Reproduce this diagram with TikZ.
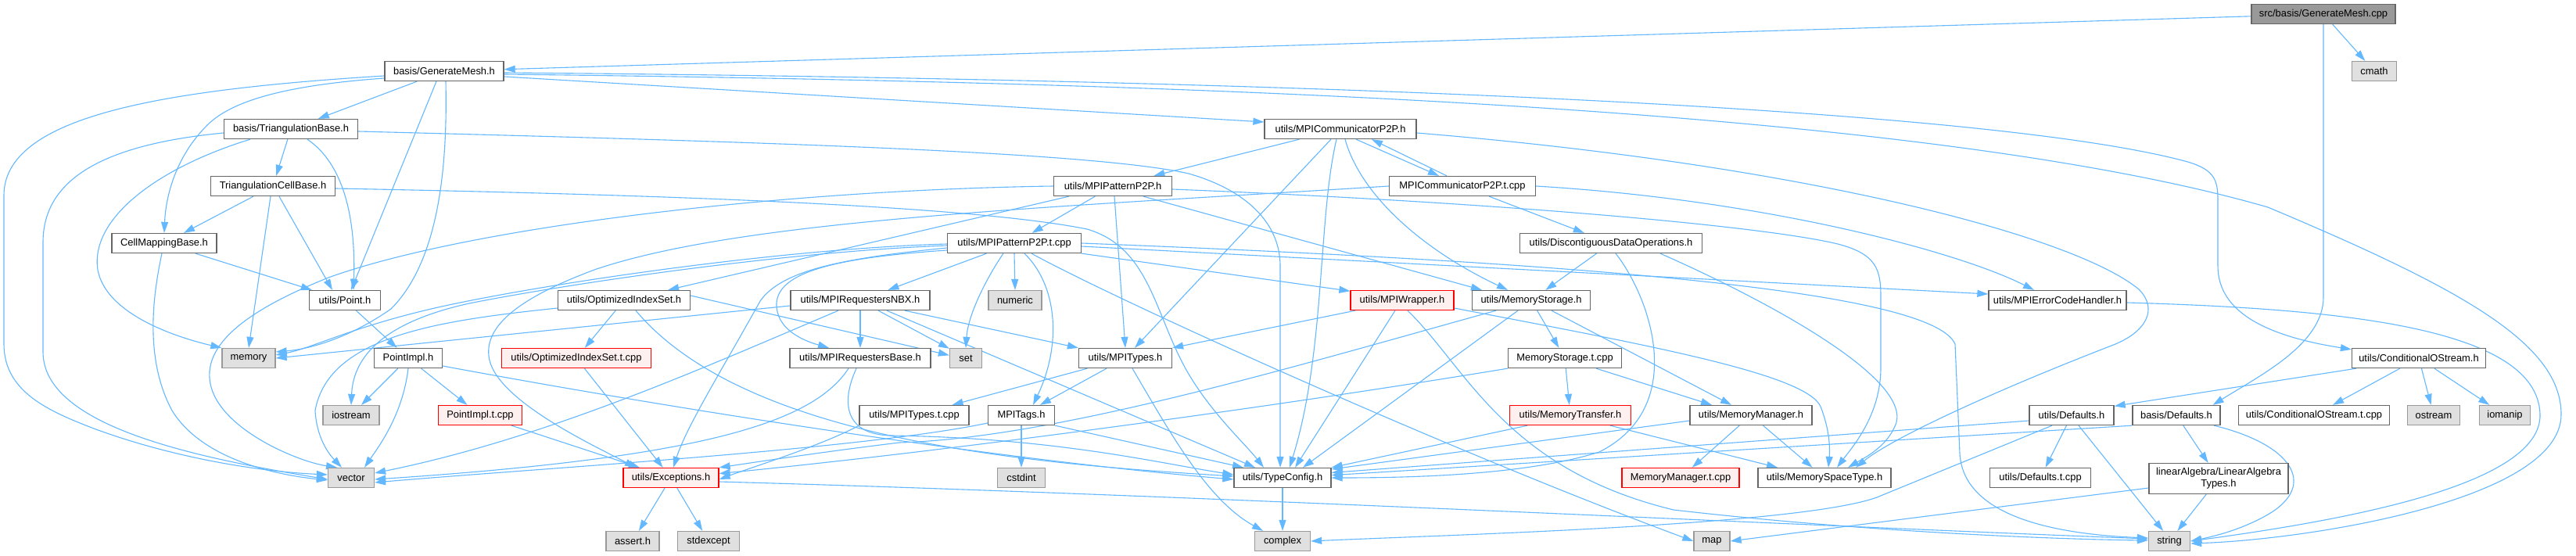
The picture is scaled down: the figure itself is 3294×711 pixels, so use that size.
\documentclass[tikz,border=0pt]{standalone}
\usepackage{fontspec}
\setmainfont{Liberation Sans}
\usetikzlibrary{arrows.meta}
\definecolor{edgec}{HTML}{63B8FF}
\definecolor{boxb}{HTML}{666666}
\definecolor{extb}{HTML}{999999}
\definecolor{extf}{HTML}{E0E0E0}
\definecolor{redb}{HTML}{FF0000}
\definecolor{redf}{HTML}{FFF0F0}
\definecolor{rootf}{HTML}{999999}
\newcommand{\nodefont}{\fontsize{12.9}{15}\selectfont}
\pgfdeclarelayer{back}
\pgfdeclarelayer{bg}
\pgfsetlayers{back,bg,main}
\begin{document}
\begin{tikzpicture}[x=1pt,y=-1pt,
 box/.style={draw=boxb, fill=white, line width=1.3pt, minimum height=25pt, inner sep=0pt, font=\nodefont},
 extbox/.style={box, draw=extb, fill=extf},
 redbox/.style={box, draw=redb, fill=redf},
 rootbox/.style={box, draw=boxb, fill=rootf},
 dep/.style={draw=edgec, line width=1.1pt, -{Triangle[length=14pt,width=9pt]}}]
\begin{pgfonlayer}{back}
\fill[white] (0,0) rectangle (3294,711);
\end{pgfonlayer}
\useasboundingbox (0,0) rectangle (3294,711);

\node[rootbox,minimum width=184pt] (cpp) at (2971,18) {src/basis/GenerateMesh.cpp};
\node[extbox,minimum width=57pt] (cmath) at (3036,91) {cmath};
\node[box,minimum width=152pt] (gmh) at (568,91) {basis/GenerateMesh.h};
\node[box,minimum width=171pt] (tribase) at (372,165) {basis/TriangulationBase.h};
\node[box,minimum width=194pt] (comm) at (1714,165) {utils/MPICommunicatorP2P.h};
\node[box,minimum width=159pt] (tricell) at (349,238) {TriangulationCellBase.h};
\node[box,minimum width=151pt] (pat) at (1423,238) {utils/MPIPatternP2P.h};
\node[box,minimum width=187pt] (commt) at (1870,238) {MPICommunicatorP2P.t.cpp};
\node[box,minimum width=134pt] (cellmap) at (210,311) {CellMappingBase.h};
\node[box,minimum width=171pt] (patt) at (1297,311) {utils/MPIPatternP2P.t.cpp};
\node[box,minimum width=233pt] (disc) at (2060,311) {utils/DiscontiguousDataOperations.h};
\node[box,minimum width=91pt] (point) at (441,384) {utils/Point.h};
\node[box,minimum width=169pt] (optset) at (798,384) {utils/OptimizedIndexSet.h};
\node[box,minimum width=178pt] (nbx) at (1100,384) {utils/MPIRequestersNBX.h};
\node[extbox,minimum width=68pt] (numeric) at (1298,384) {numeric};
\node[redbox,minimum width=132pt] (wrapper) at (1793,384) {utils/MPIWrapper.h};
\node[box,minimum width=151pt] (memst) at (1958,384) {utils/MemoryStorage.h};
\node[box,minimum width=176pt] (errh) at (2631,384) {utils/MPIErrorCodeHandler.h};
\node[extbox,minimum width=68pt] (memory) at (318,458) {memory};
\node[box,minimum width=87pt] (pimpl) at (522,458) {PointImpl.h};
\node[redbox,minimum width=191pt] (optsett) at (737,458) {utils/OptimizedIndexSet.t.cpp};
\node[box,minimum width=180pt] (reqbase) at (1100,458) {utils/MPIRequestersBase.h};
\node[extbox,minimum width=41pt] (set) at (1235,458) {set};
\node[box,minimum width=119pt] (types) at (1439,458) {utils/MPITypes.h};
\node[box,minimum width=145pt] (memstt) at (2001,458) {MemoryStorage.t.cpp};
\node[box,minimum width=171pt] (cond) at (3093,458) {utils/ConditionalOStream.h};
\node[extbox,minimum width=72pt] (iostream) at (449,531) {iostream};
\node[redbox,minimum width=107pt] (pimplt) at (614,531) {PointImpl.t.cpp};
\node[box,minimum width=140pt] (typest) at (1169,531) {utils/MPITypes.t.cpp};
\node[box,minimum width=85pt] (tags) at (1306,531) {MPITags.h};
\node[redbox,minimum width=155pt] (transfer) at (2008,531) {utils/MemoryTransfer.h};
\node[box,minimum width=156pt] (manager) at (2239,531) {utils/MemoryManager.h};
\node[box,minimum width=108pt] (udef) at (2649,531) {utils/Defaults.h};
\node[box,minimum width=112pt] (bdef) at (2783,531) {basis/Defaults.h};
\node[box,minimum width=193pt] (condt) at (2959,531) {utils/ConditionalOStream.t.cpp};
\node[extbox,minimum width=67pt] (ostream) at (3112,531) {ostream};
\node[extbox,minimum width=65pt] (iomanip) at (3203,531) {iomanip};
\node[extbox,minimum width=59pt] (vector) at (449,611) {vector};
\node[redbox,minimum width=122pt] (exc) at (858,611) {utils/Exceptions.h};
\node[extbox,minimum width=61pt] (cstdint) at (1306,611) {cstdint};
\node[box,minimum width=124pt] (tc) at (1640,611) {utils/TypeConfig.h};
\node[redbox,minimum width=150pt] (managert) at (2149,611) {MemoryManager.t.cpp};
\node[box,minimum width=170pt] (space) at (2333,611) {utils/MemorySpaceType.h};
\node[box,minimum width=129pt] (deft) at (2609,611) {utils/Defaults.t.cpp};
\node[box,minimum width=178pt,minimum height=39pt,align=center] (linalg) at (2837,612) {linearAlgebra/LinearAlgebra\\Types.h};
\node[extbox,minimum width=68pt] (assert) at (809,692) {assert.h};
\node[extbox,minimum width=79pt] (stdexcept) at (906,692) {stdexcept};
\node[extbox,minimum width=71pt] (complex) at (1640,692) {complex};
\node[extbox,minimum width=46pt] (map) at (2189,692) {map};
\node[extbox,minimum width=53pt] (string) at (2774,692) {string};

\begin{pgfonlayer}{bg}
% root
\draw[dep] (cpp) -- (gmh);
\draw[dep] (cpp) -- (cmath);
\draw[dep] (cpp.south) -- (2971,380) .. controls (2971,440) and (2890,480) .. ([xshift=-10pt]bdef.north east);
% GenerateMesh.h
\draw[dep] (gmh) -- (tribase);
\draw[dep] ([yshift=-9pt]gmh.west) .. controls (380,108) and (300,125) .. (265,160) .. controls (225,200) and (212,250) .. (cellmap.north);
\draw[dep] ([yshift=-6pt]gmh.west) .. controls (200,115) and (5,150) .. (5,250) -- (5,440) .. controls (5,500) and (60,525) .. (120,548) .. controls (220,585) and (330,603) .. ([yshift=4pt]vector.west);
\draw[dep] ([xshift=-10pt]gmh.south) -- ([xshift=8pt]point.north);
\draw[dep] ([xshift=2pt]gmh.south) .. controls (572,200) and (565,330) .. (500,395) .. controls (450,430) and (400,446) .. ([yshift=8pt]memory.east);
\draw[dep] ([yshift=-7pt]gmh.east) -- ([yshift=9pt]comm.west);
\draw[dep] ([yshift=-2pt]gmh.east) .. controls (1500,100) and (2500,130) .. (2790,205) .. controls (2830,215) and (2836,228) .. (2836,255) -- (2836,340) .. controls (2836,400) and (2900,430) .. ([yshift=-2pt]cond.north west);
\draw[dep] ([yshift=-4pt]gmh.east) .. controls (1500,105) and (2450,135) .. (2900,265) .. controls (3150,370) and (3275,440) .. (3275,530) .. controls (3275,640) and (2950,690) .. ([yshift=-3pt]string.east);
% TriangulationBase.h
\draw[dep] (tribase) -- (tricell);
\draw[dep] ([yshift=-5pt]tribase.west) .. controls (130,185) and (55,230) .. (55,310) -- (55,450) .. controls (55,545) and (250,585) .. ([yshift=-2pt]vector.west);
\draw[dep] ([xshift=-52pt]tribase.south) .. controls (200,215) and (115,280) .. (125,345) .. controls (135,400) and (220,430) .. (memory.north west);
\draw[dep] ([xshift=21pt]tribase.south) .. controls (440,210) and (455,280) .. ([xshift=11pt]point.north);
\draw[dep] ([yshift=-3pt]tribase.east) .. controls (1000,182) and (1400,195) .. (1520,222) .. controls (1600,245) and (1637,290) .. (1637,340) -- ([xshift=-3pt]tc.north);
% TriangulationCellBase.h
\draw[dep] (tricell) -- (cellmap);
\draw[dep] ([xshift=-3pt]tricell.south) -- (memory.north);
\draw[dep] ([xshift=8pt]tricell.south) -- ([xshift=-16pt]point.north);
\draw[dep] ([yshift=-3pt]tricell.east) .. controls (900,250) and (1250,265) .. (1390,293) .. controls (1465,315) and (1475,390) .. (1510,460) .. controls (1540,520) and (1590,565) .. ([xshift=-24pt]tc.north);
% CellMappingBase.h
\draw[dep] ([xshift=40pt]cellmap.south) -- ([xshift=4pt]point.north west);
\draw[dep] ([xshift=-3pt]cellmap.south) .. controls (195,380) and (185,460) .. (220,525) .. controls (260,590) and (360,608) .. ([yshift=-3pt]vector.west);
% Point
\draw[dep] (point) -- (pimpl);
\draw[dep] (pimpl) -- (iostream);
\draw[dep] (pimpl.south) .. controls (515,530) and (485,570) .. ([xshift=17pt]vector.north);
\draw[dep] (pimpl) -- (pimplt);
\draw[dep] ([yshift=-10pt]pimpl.east) .. controls (900,530) and (1300,590) .. ([yshift=-2pt]tc.west);
\draw[dep] (pimplt) -- (exc);
% Exceptions, TypeConfig
\draw[dep] (optsett) -- (exc);
\draw[dep] (exc) -- (assert);
\draw[dep] (exc) -- (stdexcept);
\draw[dep] ([yshift=-5pt]exc.east) .. controls (1500,632) and (2300,672) .. ([yshift=3pt]string.west);
\draw[dep] (tc) -- (complex);
% OptimizedIndexSet.h
\draw[dep] (optset) -- (optsett);
\draw[dep] ([xshift=15pt]optset.south) .. controls (950,560) and (1300,592) .. ([yshift=2pt]tc.west);
\draw[dep] ([yshift=6pt]optset.east) -- (set.170);
\draw[dep] ([yshift=-10pt]optset.west) .. controls (560,410) and (420,430) .. (403,525) .. controls (405,560) and (420,580) .. ([xshift=-12pt]vector.north);
% MPIPatternP2P.h
\draw[dep] (pat.west) .. controls (1000,243) and (600,290) .. (420,355) .. controls (320,395) and (255,440) .. (270,495) .. controls (285,550) and (380,590) .. ([xshift=-18pt]vector.north);
\draw[dep] (pat) -- (optset);
\draw[dep] (pat) -- (patt);
\draw[dep] ([xshift=2pt]pat.south) -- (types.north);
\draw[dep] ([xshift=39pt]pat.south) -- ([xshift=-63pt]memst.north);
\draw[dep] ([yshift=-4pt]pat.east) .. controls (1900,258) and (2250,288) .. (2350,312) .. controls (2400,325) and (2405,345) .. (2405,380) -- (2405,470) .. controls (2405,530) and (2370,570) .. ([xshift=16pt]space.north);
% MPICommunicatorP2P.h
\draw[dep] (comm) -- (pat);
\draw[dep] ([xshift=-12pt]comm.south) -- ([xshift=12pt]types.north);
\draw[dep] ([xshift=-5pt]comm.south) .. controls (1685,280) and (1695,450) .. ([xshift=9pt]tc.north);
\draw[dep] ([xshift=6pt]comm.south) .. controls (1740,250) and (1820,320) .. ([xshift=-30pt]memst.north);
\draw[dep] ([xshift=20pt]comm.south) -- ([xshift=-30pt]commt.north);
\draw[dep] ([xshift=-20pt]commt.north) -- ([xshift=40pt]comm.south);
\draw[dep] ([yshift=-5pt]comm.east) .. controls (2300,210) and (2650,300) .. (2735,370) .. controls (2760,395) and (2745,425) .. (2700,442) .. controls (2550,500) and (2420,560) .. ([xshift=40pt]space.north);
% MPICommunicatorP2P.t.cpp
\draw[dep] (commt) -- (disc);
\draw[dep] (commt.west) .. controls (1350,265) and (950,280) .. (760,345) .. controls (680,375) and (620,410) .. (625,455) .. controls (630,510) and (760,570) .. ([xshift=-45pt]exc.north);
\draw[dep] (commt.east) .. controls (2250,255) and (2500,320) .. ([xshift=-30pt]errh.north);
% DiscontiguousDataOperations.h
\draw[dep] (disc) -- (memst);
\draw[dep] ([xshift=6pt]disc.south) .. controls (2110,380) and (2160,520) .. (2045,578) .. controls (1950,608) and (1800,611) .. (tc.east);
\draw[dep] ([xshift=63pt]disc.south) .. controls (2250,380) and (2440,480) .. (2425,540) .. controls (2415,570) and (2385,585) .. ([xshift=30pt]space.north);
% MemoryStorage.h
\draw[dep] (memst) -- (memstt);
\draw[dep] ([xshift=26pt]memst.south) -- ([xshift=-25pt]manager.north);
\draw[dep] ([xshift=-17pt]memst.south) -- ([xshift=26pt]tc.north);
\draw[dep] ([xshift=-45pt]memst.south) .. controls (1650,470) and (1350,560) .. (1150,566) .. controls (1050,578) and (960,592) .. (exc.north east);
% MemoryStorage.t.cpp
\draw[dep] (memstt) -- (transfer);
\draw[dep] (memstt.south west) .. controls (1600,525) and (1200,578) .. (exc.5);
\draw[dep] ([xshift=40pt]memstt.south) -- ([xshift=-50pt]manager.north);
% MemoryTransfer.h, MemoryManager.h
\draw[dep] ([xshift=-55pt]transfer.south) -- (tc.north east);
\draw[dep] ([xshift=51pt]transfer.south) -- ([xshift=-60pt]space.north);
\draw[dep] (manager) -- (managert);
\draw[dep] (manager) -- (space);
\draw[dep] ([yshift=-7pt]manager.west) -- (tc.10);
% utils/Defaults.h
\draw[dep] ([yshift=-7pt]udef.west) -- (tc.6);
\draw[dep] ([xshift=-25pt]udef.south) -- (2400,636) .. controls (2300,672) and (1850,684) .. (complex.east);
\draw[dep] (udef) -- (deft);
\draw[dep] ([xshift=9pt]udef.south) -- ([xshift=-8pt]string.north);
% basis/Defaults.h
\draw[dep] (bdef.south west) -- (tc.3);
\draw[dep] (bdef) -- (linalg);
\draw[dep] ([xshift=48pt]bdef.south) .. controls (2930,568) and (2965,620) .. (2900,658) .. controls (2865,678) and (2830,686) .. (string.east);
\draw[dep] ([yshift=-12pt]linalg.west) -- (map.east);
\draw[dep] (linalg) -- (string);
% ConditionalOStream.h
\draw[dep] (cond) -- (condt);
\draw[dep] (cond) -- (ostream);
\draw[dep] (cond) -- (iomanip);
\draw[dep] ([xshift=-80pt]cond.south) -- (udef.12);
% MPIErrorCodeHandler.h
\draw[dep] ([yshift=-3pt]errh.east) .. controls (3000,395) and (3245,420) .. (3248,530) .. controls (3250,620) and (3000,665) .. (string.east);
% MPIPatternP2P.t.cpp
\draw[dep] (patt) -- (nbx);
\draw[dep] ([xshift=-14pt]patt.south) .. controls (1265,350) and (1238,400) .. (set.north);
\draw[dep] (patt.south) -- (numeric.north);
\draw[dep] ([xshift=13pt]patt.south) .. controls (1352,365) and (1358,440) .. ([xshift=15pt]tags.north);
\draw[dep] ([xshift=22pt]patt.south) .. controls (1430,385) and (1850,575) .. (map.west);
\draw[dep] (patt.south east) -- (wrapper.170);
\draw[dep] ([yshift=-4pt]patt.east) -- ([yshift=8pt]errh.west);
\draw[dep] (patt.east) .. controls (2000,335) and (2470,370) .. (2500,440) -- (2506,580) .. controls (2510,650) and (2600,682) .. ([yshift=4pt]string.west);
\draw[dep] ([yshift=-1pt]patt.west) .. controls (1000,318) and (700,362) .. (560,393) .. controls (450,418) and (400,445) .. ([yshift=4pt]memory.east);
\draw[dep] ([yshift=-3pt]patt.west) .. controls (1000,322) and (720,364) .. (600,388) .. controls (500,410) and (452,450) .. (iostream.north);
\draw[dep] ([yshift=-6pt]patt.west) .. controls (1080,330) and (1000,345) .. (972,385) .. controls (925,470) and (878,545) .. ([xshift=3pt]exc.north);
\draw[dep] ([yshift=-9pt]patt.west) .. controls (1060,330) and (995,350) .. (993,388) .. controls (992,420) and (1025,435) .. ([xshift=-40pt]reqbase.north);
% MPIRequestersNBX.h
\draw[dep] (nbx) -- (reqbase);
\draw[dep] ([xshift=23pt]nbx.south) -- (set.150);
\draw[dep] ([xshift=57pt]nbx.south) -- (types.north west);
\draw[dep] ([xshift=34pt]nbx.south) -- ([xshift=-35pt]tc.north);
\draw[dep] ([yshift=-7pt]nbx.west) -- (memory.east);
\draw[dep] ([xshift=-28pt]nbx.south) .. controls (900,470) and (700,560) .. ([yshift=6pt]vector.east);
% MPIRequestersBase.h
\draw[dep] ([xshift=-5pt]reqbase.south) .. controls (1075,515) and (1080,556) .. (1140,557) .. controls (1350,560) and (1480,592) .. ([yshift=4pt]tc.west);
\draw[dep] ([xshift=-15pt]reqbase.south) .. controls (1040,540) and (900,585) .. ([yshift=-2pt]vector.east);
% MPITags.h
\draw[dep] ([yshift=-10pt]tags.west) .. controls (1100,575) and (700,598) .. ([yshift=-6pt]vector.east);
\draw[dep] (tags) -- (cstdint);
\draw[dep] (tags.south east) -- ([xshift=-50pt]tc.north);
% MPITypes.h
\draw[dep] (types) -- (typest);
\draw[dep] (types) -- (tags);
\draw[dep] ([xshift=9pt]types.south) .. controls (1500,560) and (1545,640) .. ([xshift=-25pt]complex.north);
\draw[dep] (typest.south west) .. controls (1050,570) and (960,598) .. ([yshift=-2pt]exc.east);
% MPIWrapper.h
\draw[dep] ([xshift=-60pt]wrapper.south) -- (types.north east);
\draw[dep] ([xshift=-9pt]wrapper.south) -- ([xshift=16pt]tc.north);
\draw[dep] ([xshift=7pt]wrapper.south) .. controls (1875,470) and (1925,600) .. (2140,652) .. controls (2400,682) and (2650,690) .. ([yshift=1pt]string.west);
\draw[dep] ([yshift=-10pt]wrapper.east) .. controls (2100,440) and (2310,478) .. (2328,520) .. controls (2340,550) and (2340,575) .. ([xshift=5pt]space.north);
\end{pgfonlayer}
\end{tikzpicture}
\end{document}
